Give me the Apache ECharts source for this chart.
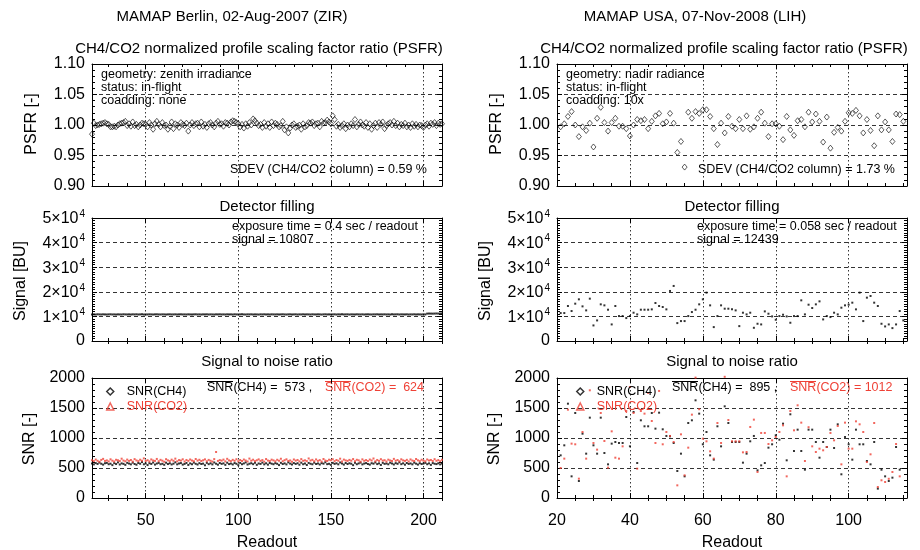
<!DOCTYPE html>
<html>
<head>
<meta charset="utf-8">
<title>MAMAP PSFR / detector filling / SNR</title>
<script src="https://cdn.jsdelivr.net/npm/echarts/dist/echarts.min.js"></script>
<style>
html, body { margin: 0; padding: 0; background: #fff; }
#chart { width: 920px; height: 550px; }
</style>
</head>
<body>
<div id="chart"></div>
<script>
// first readout number of each campaign
const leftFirst = 21;
const rightFirst = 21;

// x tick values
const leftMajorX = [50, 100, 150, 200];
const leftMinorX = [30, 40, 60, 70, 80, 90, 110, 120, 130, 140, 160, 170, 180, 190, 210];
const rightMajorX = [20, 40, 60, 80, 100];
const rightMinorX = [25, 30, 35, 45, 50, 55, 65, 70, 75, 85, 90, 95, 105, 110, 115];

// Berlin (ZIR), readout 21..210
const leftPsfr = [
  0.985, 1.003, 0.999, 1.000, 1.001, 1.002, 1.003, 1.004, 1.002, 1.001,
  0.997, 0.997, 0.998, 0.997, 1.000, 1.002, 1.003, 1.004, 1.006, 0.999,
  1.002, 0.998, 1.005, 0.999, 1.001, 0.997, 1.000, 1.003, 1.002, 1.001,
  0.997, 1.004, 1.000, 0.993, 1.002, 1.006, 1.001, 0.997, 1.004, 0.999,
  1.000, 0.993, 0.998, 1.005, 0.994, 1.002, 1.000, 0.996, 1.004, 1.001,
  0.999, 1.003, 0.990, 1.000, 1.004, 0.999, 1.002, 1.003, 0.997, 1.005,
  0.998, 1.001, 0.996, 1.002, 1.004, 1.000, 0.997, 1.003, 1.006, 1.001,
  1.002, 0.998, 1.004, 1.003, 1.000, 1.005, 1.007, 1.006, 1.004, 1.002,
  0.997, 1.001, 0.995, 1.002, 0.998, 1.004, 1.000, 1.010, 1.007, 1.003,
  0.999, 1.001, 0.996, 1.004, 0.998, 1.002, 0.996, 1.005, 0.999, 1.003,
  1.001, 0.997, 0.999, 1.006, 0.992, 0.997, 0.987, 0.995, 1.000, 1.002,
  0.996, 0.998, 1.000, 0.993, 1.002, 0.997, 0.999, 1.004, 1.003, 1.005,
  0.999, 1.002, 1.003, 0.997, 1.006, 1.003, 1.004, 1.008, 1.005, 1.002,
  1.015, 1.009, 0.998, 1.001, 0.996, 0.999, 1.002, 0.994, 1.000, 0.997,
  1.002, 0.999, 1.009, 0.997, 1.001, 1.005, 1.000, 0.998, 1.004, 0.996,
  1.002, 0.993, 0.999, 1.003, 0.996, 1.004, 1.001, 1.005, 0.994, 0.999,
  1.002, 1.004, 1.000, 1.006, 0.999, 1.003, 0.997, 1.001, 0.999, 1.003,
  0.997, 1.000, 0.996, 1.002, 0.998, 1.001, 0.997, 1.000, 0.999, 0.996,
  1.000, 1.002, 0.998, 1.003, 1.001, 1.004, 0.999, 1.003, 1.001, 1.002
];
const leftSignal = [
  10790, 10830, 10760, 10850, 10810, 10780, 10840, 10800, 10770, 10820,
  10850, 10790, 10810, 10760, 10830, 10800, 10780, 10860, 10810, 10790,
  10820, 10770, 10840, 10805, 10850, 10780, 10815, 10830, 10760, 10800,
  10795, 10840, 10810, 10770, 10825, 10850, 10800, 10785, 10830, 10810,
  10765, 10820, 10845, 10790, 10805, 10835, 10775, 10815, 10850, 10795,
  10810, 10780, 10840, 10800, 10765, 10825, 10855, 10790, 10815, 10770,
  10830, 10805, 10845, 10780, 10820, 10795, 10760, 10835, 10810, 10850,
  10790, 10815, 10775, 10840, 10800, 10825, 10765, 10845, 10805, 10785,
  10820, 10850, 10795, 10770, 10830, 10810, 10845, 10780, 10815, 10800,
  10760, 10835, 10805, 10850, 10790, 10820, 10775, 10840, 10810, 10795,
  10830, 10780, 10815, 10855, 10800, 10770, 10825, 10845, 10790, 10810,
  10840, 10765, 10820, 10800, 10850, 10785, 10830, 10810, 10775, 10845,
  10805, 10790, 10835, 10815, 10760, 10825, 10850, 10795, 10820, 10780,
  10810, 10845, 10770, 10830, 10800, 10855, 10790, 10815, 10840, 10765,
  10825, 10805, 10780, 10850, 10810, 10790, 10835, 10770, 10820, 10845,
  10800, 10775, 10830, 10815, 10855, 10785, 10820, 10805, 10840, 10790,
  10815, 10760, 10845, 10800, 10825, 10850, 10780, 10830, 10810, 10795,
  10840, 10770, 10820, 10805, 10850, 10785, 10830, 10810, 10775, 10845,
  10800, 11130, 11160, 11140, 11120, 11150, 11180, 11140, 11160, 11130
];
const leftSnrCh4 = [
  575, 560, 582, 568, 590, 571, 556, 579, 585, 563,
  572, 548, 581, 566, 594, 558, 577, 569, 552, 586,
  574, 561, 589, 567, 555, 583, 571, 598, 562, 576,
  549, 580, 568, 591, 557, 574, 585, 563, 570, 553,
  588, 566, 579, 559, 572, 595, 561, 575, 582, 556,
  568, 584, 551, 577, 563, 590, 570, 558, 581, 567,
  573, 546, 586, 564, 578, 560, 592, 571, 555, 583,
  569, 577, 552, 588, 565, 574, 559, 582, 570, 547,
  585, 562, 576, 593, 558, 571, 580, 564, 587, 553,
  575, 568, 590, 561, 579, 556, 584, 572, 563, 581,
  570, 549, 586, 566, 577, 560, 594, 573, 557, 582,
  568, 579, 555, 588, 563, 575, 550, 584, 571, 562,
  589, 567, 576, 558, 581, 572, 596, 564, 570, 553,
  585, 569, 578, 561, 592, 574, 557, 583, 566, 579,
  571, 548, 587, 563, 576, 590, 560, 574, 582, 567,
  556, 580, 572, 593, 565, 577, 551, 586, 569, 575,
  562, 588, 573, 559, 581, 570, 595, 564, 578, 555,
  583, 568, 576, 561, 589, 572, 557, 580, 566, 574,
  586, 563, 577, 552, 582, 571, 565, 579, 560, 573
];
const leftSnrCo2 = [
  628, 615, 641, 620, 603, 635, 652, 618, 627, 610,
  645, 622, 608, 637, 629, 616, 655, 624, 612, 640,
  619, 633, 606, 648, 626, 614, 638, 621, 660, 617,
  630, 609, 643, 625, 618, 651, 613, 636, 622, 604,
  647, 627, 615, 639, 620, 656, 611, 632, 624, 645,
  608, 634, 619, 642, 626, 613, 650, 623, 637, 616,
  629, 644, 612, 635, 621, 607, 648, 767, 618, 631,
  623, 640, 610, 653, 627, 615, 636, 620, 646, 612,
  633, 617, 641, 625, 609, 657, 622, 638, 614, 629,
  644, 619, 632, 606, 649, 624, 616, 639, 627, 611,
  637, 621, 654, 613, 630, 645, 618, 626, 605, 642,
  623, 634, 611, 648, 620, 628, 615, 659, 625, 636,
  612, 643, 619, 631, 607, 650, 624, 617, 638, 629,
  646, 614, 633, 621, 655, 610, 640, 626, 618, 635,
  622, 649, 613, 637, 628, 604, 644, 620, 632, 616,
  641, 625, 658, 611, 634, 619, 647, 623, 630, 608,
  639, 626, 615, 652, 621, 633, 612, 645, 627, 618,
  636, 609, 643, 624, 617, 650, 628, 614, 638, 622,
  611, 642, 625, 634, 616, 647, 620, 631, 613, 637
];

// USA (LIH), readout 21..115
const rightPsfr = [
  0.997, 1.002, 1.014, 1.022, 1.000, 0.981, 0.997, 0.991, 1.003, 0.964,
  1.011, 1.029, 1.004, 0.990, 1.004, 1.011, 0.998, 0.998, 0.994, 0.982,
  1.000, 1.009, 1.007, 1.009, 0.994, 1.006, 1.015, 1.019, 1.002, 1.005,
  1.019, 1.003, 0.955, 0.973, 0.931, 1.021, 1.011, 1.022, 1.019, 1.025,
  1.025, 1.014, 0.994, 0.968, 1.003, 0.987, 1.014, 0.998, 0.994, 1.009,
  0.994, 1.015, 0.993, 0.997, 1.011, 1.021, 1.003, 0.981, 1.002, 1.002,
  0.998, 0.976, 1.014, 0.992, 0.983, 1.007, 1.009, 0.997, 1.021, 1.005,
  1.018, 1.006, 0.972, 1.013, 0.962, 0.988, 0.996, 0.990, 1.006, 1.020,
  1.019, 1.024, 1.015, 0.987, 1.009, 0.991, 0.966, 1.015, 0.992, 1.005,
  0.992, 0.973, 1.018, 1.017, 1.006
];
const rightSignal = [
  11360, 11360, 14220, 12180, 15170, 16940, 14080, 12450, 17210, 6330,
  8370, 14900, 14490, 12720, 6740, 14220, 10140, 10140, 9320, 10140,
  11500, 10820, 12720, 12720, 12720, 12860, 15440, 14220, 13810, 12860,
  20340, 22380, 7280, 8100, 8100, 10140, 11770, 12720, 14900, 16940,
  19660, 14490, 5650, 10140, 14490, 13130, 13130, 12860, 12450, 6050,
  11500, 10820, 11500, 5370, 7010, 6740, 12040, 11090, 10000, 8640,
  10140, 10680, 10000, 7420, 10140, 10140, 16530, 10820, 14760, 13400,
  14900, 16120, 8780, 10140, 9730, 11500, 10820, 13540, 14490, 14760,
  15580, 12860, 19660, 8100, 17620, 18300, 15580, 14220, 7010, 5920,
  6740, 5240, 6740, 12180, 8370
];
const rightSnrCh4 = [
  711, 878, 1572, 361, 1417, 283, 1072, 739, 1339, 878,
  739, 1339, 750, 561, 906, 933, 917, 917, 1350, 861,
  1434, 583, 1295, 1195, 1195, 1417, 1156, 1422, 1145, 1034,
  1028, 917, 450, 739, 361, 1250, 1295, 1628, 1406, 895,
  1100, 711, 639, 1195, 861, 1528, 1250, 933, 933, 933,
  589, 739, 945, 1034, 461, 544, 583, 839, 895, 1045,
  972, 1239, 628, 1395, 783, 1139, 783, 472, 1139, 1139,
  933, 672, 933, 850, 1139, 833, 1228, 395, 1017, 895,
  639, 1139, 895, 895, 617, 561, 933, 156, 472, 361,
  283, 339, 850, 472
];
const rightSnrCo2 = [
  500, 656, 1472, 906, 895, 322, 1100, 656, 1795, 917,
  806, 1417, 950, 506, 1111, 672, 656, 861, 1450, 1850,
  1417, 489, 1450, 1406, 1750, 1283, 917, 1784, 895, 1100,
  1034, 933, 211, 1061, 378, 839, 1389, 2006, 1480, 989,
  945, 778, 656, 1250, 917, 2020, 1300, 945, 945, 945,
  761, 767, 1184, 1306, 433, 1084, 1084, 900, 961, 1017,
  1100, 1211, 361, 1450, 1128, 1545, 1256, 617, 1180, 861,
  767, 822, 795, 850, 1084, 961, 1200, 561, 1256, 822,
  822, 1278, 1228, 1100, 600, 728, 1250, 183, 295, 267,
  320, 433, 900, 361
];

const FONT = "'Liberation Sans', Arial, Helvetica, sans-serif";
const RED = "#ef4136";
const BLACK = "#000";

function pairs(first, values) {
  return values.map((v, i) => [first + i, v]);
}

// grid boxes: 0 top-left, 1 top-right, 2 mid-left, 3 mid-right, 4 bottom-left, 5 bottom-right
const colLeft = [92, 557];
const rows = [
  { top: 64, height: 122 },
  { top: 218, height: 123 },
  { top: 378, height: 120 }
];
const grids = [];
rows.forEach(r => colLeft.forEach(l => grids.push({ left: l, top: r.top, width: 350, height: r.height })));

const axisLineStyle = { color: BLACK, width: 1 };

function xAxesFor(grid, min, max, major, minor, showLabels) {
  const base = { gridIndex: grid, type: "value", min: min, max: max, silent: true };
  const tickMajor = { show: true, inside: true, length: 5, customValues: major, lineStyle: axisLineStyle };
  const tickMinor = { show: true, inside: true, length: 3, customValues: minor, lineStyle: axisLineStyle };
  const off = { show: false };
  return [
    Object.assign({}, base, {
      position: "bottom",
      axisLine: { show: true, onZero: false, lineStyle: axisLineStyle },
      axisTick: tickMajor,
      axisLabel: { show: showLabels, customValues: major, color: BLACK, fontSize: 16, fontFamily: FONT, margin: 15 },
      splitLine: { show: true, lineStyle: { color: BLACK, width: 0.8, type: [1.5, 2.5] } }
    }),
    Object.assign({}, base, { position: "bottom", axisLine: off, axisTick: tickMinor, axisLabel: off, splitLine: off }),
    Object.assign({}, base, { position: "top", axisLine: { show: true, onZero: false, lineStyle: axisLineStyle }, axisTick: tickMajor, axisLabel: off, splitLine: off }),
    Object.assign({}, base, { position: "top", axisLine: off, axisTick: tickMinor, axisLabel: off, splitLine: off })
  ];
}

function yAxesFor(grid, min, max, interval, minorSplit, formatter) {
  const base = {
    gridIndex: grid, type: "value", min: min, max: max, interval: interval, silent: true,
    axisLine: { show: true, onZero: false, lineStyle: axisLineStyle },
    axisTick: { show: true, inside: true, length: 5, lineStyle: axisLineStyle },
    minorTick: { show: true, splitNumber: minorSplit, length: 3, lineStyle: axisLineStyle }
  };
  return [
    Object.assign({}, base, {
      position: "left",
      axisLabel: {
        show: true, formatter: formatter, color: BLACK, fontSize: 16, fontFamily: FONT, margin: 7,
        rich: {
          b: { fontSize: 16, fontFamily: FONT, color: BLACK, verticalAlign: "bottom" },
          s: { fontSize: 10, fontFamily: FONT, color: BLACK, verticalAlign: "bottom", padding: [0, 0, 8, 1] }
        }
      },
      splitLine: { show: true, lineStyle: { color: BLACK, width: 0.8, type: [4, 3] } }
    }),
    Object.assign({}, base, { position: "right", axisLabel: { show: false }, splitLine: { show: false } })
  ];
}

const psfrFmt = v => v.toFixed(2);
const signalFmt = v => v === 0 ? "{b|0}" : "{b|" + Math.round(v / 1e4) + "×10}{s|4}";
const snrFmt = v => String(v);

const xAxis = [].concat(
  xAxesFor(0, 21, 210, leftMajorX, leftMinorX, false),
  xAxesFor(1, 20, 116, rightMajorX, rightMinorX, false),
  xAxesFor(2, 21, 210, leftMajorX, leftMinorX, false),
  xAxesFor(3, 20, 116, rightMajorX, rightMinorX, false),
  xAxesFor(4, 21, 210, leftMajorX, leftMinorX, true),
  xAxesFor(5, 20, 116, rightMajorX, rightMinorX, true)
);
const yAxis = [].concat(
  yAxesFor(0, 0.9, 1.1, 0.05, 5, psfrFmt),
  yAxesFor(1, 0.9, 1.1, 0.05, 5, psfrFmt),
  yAxesFor(2, 0, 50000, 10000, 10, signalFmt),
  yAxesFor(3, 0, 50000, 10000, 10, signalFmt),
  yAxesFor(4, 0, 2000, 500, 5, snrFmt),
  yAxesFor(5, 0, 2000, 500, 5, snrFmt)
);

const diamondStyle = { color: "rgba(0,0,0,0)", borderColor: BLACK, borderWidth: 0.8 };

function scatter(grid, name, data, symbol, size, itemStyle) {
  return {
    type: "scatter", name: name, xAxisIndex: grid * 4, yAxisIndex: grid * 2,
    data: data, symbol: symbol, symbolSize: size, itemStyle: itemStyle,
    clip: false, silent: true, animation: false
  };
}

const series = [
  scatter(0, "psfrL", pairs(leftFirst, leftPsfr), "diamond", [5, 6], diamondStyle),
  scatter(1, "psfrR", pairs(rightFirst, rightPsfr), "diamond", [5, 6], diamondStyle),
  scatter(2, "sigL", pairs(leftFirst, leftSignal), "rect", 2, { color: BLACK }),
  scatter(3, "sigR", pairs(rightFirst, rightSignal), "rect", 2, { color: BLACK }),
  scatter(4, "SNR(CH4)", pairs(leftFirst, leftSnrCh4), "rect", 2, { color: BLACK }),
  scatter(4, "SNR(CO2)", pairs(leftFirst, leftSnrCo2), "rect", 2, { color: RED }),
  scatter(5, "SNR(CH4)", pairs(rightFirst, rightSnrCh4), "rect", 2, { color: BLACK }),
  scatter(5, "SNR(CO2)", pairs(rightFirst, rightSnrCo2), "rect", 2, { color: RED })
];

function legendAt(left) {
  return {
    left: left, top: 380, orient: "vertical", selectedMode: false,
    itemWidth: 7, itemHeight: 7, itemGap: 2,
    textStyle: { fontSize: 12.5, fontFamily: FONT, padding: [0, 0, 0, 8] },
    data: [
      { name: "SNR(CH4)", icon: "diamond", itemStyle: { color: "rgba(0,0,0,0)", borderColor: BLACK, borderWidth: 1.5 }, textStyle: { color: BLACK } },
      { name: "SNR(CO2)", icon: "triangle", itemStyle: { color: "rgba(0,0,0,0)", borderColor: RED, borderWidth: 1.5 }, textStyle: { color: RED } }
    ]
  };
}

function txt(text, x, y, opt) {
  return {
    type: "text", x: x, y: y, silent: true, rotation: (opt && opt.rotation) || 0,
    style: {
      text: text, fill: (opt && opt.color) || BLACK, fontSize: (opt && opt.size) || 12.5,
      fontFamily: FONT, align: (opt && opt.align) || "left", verticalAlign: "middle"
    }
  };
}
function overline(x, width, color) {
  return { type: "line", silent: true, shape: { x1: x, y1: 381.5, x2: x + width, y2: 381.5 }, style: { stroke: color, lineWidth: 1 } };
}

const big = { size: 15, align: "center" };
const rot = () => ({ size: 16, align: "center", rotation: Math.PI / 2 });
const graphic = [
  txt("MAMAP Berlin, 02-Aug-2007 (ZIR)", 232, 17, big),
  txt("MAMAP USA, 07-Nov-2008 (LIH)", 695, 17, big),
  txt("CH4/CO2 normalized profile scaling factor ratio (PSFR)", 259, 49, big),
  txt("CH4/CO2 normalized profile scaling factor ratio (PSFR)", 724, 49, big),
  txt("Detector filling", 267, 207, big),
  txt("Detector filling", 732, 207, big),
  txt("Signal to noise ratio", 267, 362, big),
  txt("Signal to noise ratio", 732, 362, big),
  txt("PSFR [-]", 32, 124, rot()),
  txt("PSFR [-]", 497, 124, rot()),
  txt("Signal [BU]", 21, 281, rot()),
  txt("Signal [BU]", 486, 281, rot()),
  txt("SNR [-]", 30, 439, rot()),
  txt("SNR [-]", 495, 439, rot()),
  txt("Readout", 267, 543, { size: 16, align: "center" }),
  txt("Readout", 732, 543, { size: 16, align: "center" }),

  txt("geometry: zenith irradiance", 101, 75),
  txt("status: in-flight", 101, 88),
  txt("coadding: none", 101, 101),
  txt("SDEV (CH4/CO2 column) = 0.59 %", 230, 170),
  txt("geometry: nadir radiance", 566, 75),
  txt("status: in-flight", 566, 88),
  txt("coadding: 10x", 566, 101),
  txt("SDEV (CH4/CO2 column) = 1.73 %", 698, 170),

  txt("exposure time = 0.4 sec / readout", 232, 227),
  txt("signal = 10807", 232, 240),
  txt("exposure time = 0.058 sec / readout", 697, 227),
  txt("signal = 12439", 697, 240),

  txt("SNR(CH4) =  573 ,", 207, 388),
  txt("SNR(CO2) =  624", 325, 388, { color: RED }),
  txt("SNR(CH4) =  895 ,", 672, 388),
  txt("SNR(CO2) = 1012", 790, 388, { color: RED }),
  overline(207, 26, BLACK),
  overline(325, 26, RED),
  overline(672, 26, BLACK),
  overline(790, 26, RED)
];

const chart = echarts.init(document.getElementById("chart"), null, { renderer: "canvas" });
chart.setOption({
  animation: false,
  backgroundColor: "#fff",
  textStyle: { fontFamily: FONT },
  grid: grids,
  xAxis: xAxis,
  yAxis: yAxis,
  legend: [legendAt(101), legendAt(571)],
  series: series,
  graphic: graphic
});
</script>
</body>
</html>
